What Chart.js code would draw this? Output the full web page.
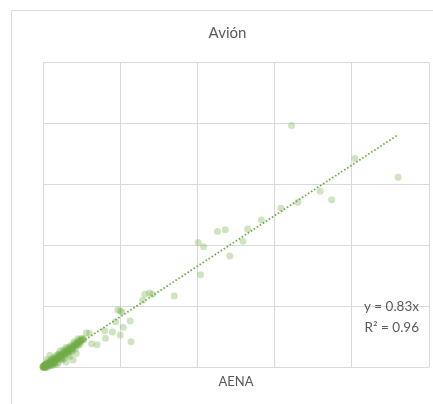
<!DOCTYPE html>
<html>
<head>
<meta charset="utf-8">
<script src="https://cdn.jsdelivr.net/npm/chart.js@4"></script>
<style>
  html, body { margin: 0; padding: 0; background: #fff; }
  canvas { display: block; }
</style>
</head>
<body>
<canvas id="scatter-chart" width="433" height="404"></canvas>
<script>
// AENA (x) vs Avión (y), axis units
let aena = [3.22, 4.04, 4.60, 3.59, 3.74, 3.30, 3.08, 2.83, 2.65, 2.59, 2.36, 2.26, 2.01, 2.08, 2.42, 2.04,
    1.70, 1.32, 1.38, 1.42, 1.29, 1.00, 1.02, 0.97, 0.94, 1.13, 1.04, 0.90, 1.00, 1.14, 0.80, 0.81, 0.63, 0.70, 0.60, 0.56,
    0.00, 0.01, 0.02, 0.02, 0.03, 0.03, 0.04, 0.04, 0.05, 0.05, 0.06, 0.06, 0.07, 0.07, 0.08, 0.08, 0.09, 0.09,
    0.10, 0.10, 0.11, 0.11, 0.12, 0.12, 0.13, 0.13, 0.14, 0.14, 0.15, 0.15, 0.16, 0.16, 0.17, 0.18, 0.18, 0.19,
    0.20, 0.20, 0.21, 0.22, 0.22, 0.23, 0.24, 0.24, 0.25, 0.26, 0.27, 0.28, 0.28, 0.29, 0.30, 0.30, 0.31, 0.32,
    0.33, 0.34, 0.35, 0.35, 0.36, 0.37, 0.38, 0.39, 0.39, 0.40, 0.41, 0.42, 0.43, 0.43, 0.44, 0.45, 0.46, 0.47,
    0.48, 0.49, 0.50, 0.51, 0.52, 0.09, 0.35, 0.25, 0.18, 0.05, 0.01, 0.00, 0.02, 0.03, 0.01, 0.04, 0.06, 0.08,
    0.20, 0.27, 0.33, 0.15, 0.12, 0.22, 0.30, 0.40, 0.45, 0.48, 0.38, 0.42, 0.36, 0.31, 0.26, 0.24, 0.19, 0.17,
    0.14, 0.11, 0.08, 0.06, 0.04, 0.03, 0.07, 0.10, 0.13, 0.16, 0.21, 0.23, 0.29, 0.34, 0.37, 0.41, 0.44, 0.47,
    0.50, 0.53, 0.46, 0.39, 0.32, 0.28, 0.02, 0.05, 0.09, 0.12, 0.15, 0.00, 0.01, 0.03];
let avion = [3.97, 3.43, 3.12, 2.89, 2.75, 2.71, 2.61, 2.42, 2.27, 2.07, 2.26, 2.23, 2.05, 1.98, 1.83, 1.52,
    1.17, 1.20, 1.22, 1.20, 1.10, 0.93, 0.91, 0.94, 0.75, 0.76, 0.66, 0.58, 0.53, 0.42, 0.60, 0.48, 0.39, 0.37, 0.56, 0.57,
    0.00, 0.01, 0.00, 0.02, 0.01, 0.03, 0.02, 0.04, 0.03, 0.05, 0.04, 0.06, 0.05, 0.07, 0.06, 0.04, 0.08, 0.06,
    0.07, 0.09, 0.08, 0.10, 0.09, 0.06, 0.11, 0.10, 0.12, 0.08, 0.13, 0.11, 0.14, 0.12, 0.14, 0.16, 0.13, 0.16,
    0.17, 0.15, 0.19, 0.18, 0.20, 0.19, 0.21, 0.17, 0.22, 0.21, 0.24, 0.23, 0.20, 0.26, 0.25, 0.09, 0.27, 0.26,
    0.29, 0.28, 0.30, 0.26, 0.31, 0.33, 0.32, 0.12, 0.35, 0.34, 0.36, 0.37, 0.23, 0.38, 0.40, 0.39, 0.41, 0.43,
    0.42, 0.45, 0.44, 0.46, 0.45, 0.20, 0.18, 0.12, 0.05, 0.13, 0.00, 0.01, 0.01, 0.02, 0.02, 0.03, 0.05, 0.07,
    0.08, 0.14, 0.20, 0.05, 0.15, 0.27, 0.33, 0.42, 0.47, 0.38, 0.27, 0.30, 0.36, 0.31, 0.28, 0.14, 0.21, 0.19,
    0.16, 0.13, 0.10, 0.08, 0.06, 0.05, 0.02, 0.04, 0.07, 0.09, 0.22, 0.14, 0.22, 0.33, 0.28, 0.40, 0.36, 0.45,
    0.48, 0.47, 0.37, 0.30, 0.24, 0.27, 0.04, 0.00, 0.03, 0.03, 0.07, 0.02, 0.03, 0.00];
let trendSlope = 0.83;
let r2 = 0.96;
let axisTicks = [0, 1, 2, 3, 4, 5];

let points = aena.map((x, i) => ({ x: x, y: avion[i] }));
let xMin = Math.min(...aena), xMax = Math.max(...aena);
let trend = [{ x: xMin, y: trendSlope * xMin }, { x: xMax, y: trendSlope * xMax }];

const green = '#70AD47';
const textGray = '#595959';
const gridGray = '#d9d9d9';

// white background, outer chart border and the trendline label
const decor = {
    id: 'decor',
    beforeDraw(chart) {
        const ctx = chart.ctx;
        ctx.save();
        ctx.fillStyle = '#fff';
        ctx.fillRect(0, 0, chart.width, chart.height);
        ctx.strokeStyle = gridGray;
        ctx.lineWidth = 1;
        ctx.beginPath();
        ctx.moveTo(11.5, chart.height + 2);
        ctx.lineTo(11.5, 10.5);
        ctx.lineTo(chart.width + 2, 10.5);
        ctx.stroke();
        ctx.restore();
    },
    afterDraw(chart) {
        const ctx = chart.ctx;
        const a = chart.chartArea;
        ctx.save();
        ctx.fillStyle = textGray;
        ctx.font = '13.5px Lato';
        ctx.textAlign = 'right';
        ctx.textBaseline = 'middle';
        ctx.fillText('y = ' + trendSlope + 'x', a.right - 10, 307);
        ctx.fillText('R² = ' + r2, a.right - 10, 328);
        ctx.restore();
    }
};

new Chart(document.getElementById('scatter-chart'), {
    type: 'scatter',
    data: {
        datasets: [{
            label: 'Avión',
            data: points,
            backgroundColor: 'rgba(112, 173, 71, 0.33)',
            borderWidth: 0,
            pointRadius: 3.5,
            clip: false
        }, {
            type: 'line',
            label: 'Tendencia',
            data: trend,
            borderColor: green,
            borderWidth: 1.8,
            borderDash: [1.6, 2],
            pointRadius: 0,
            fill: false
        }]
    },
    options: {
        responsive: false,
        animation: false,
        devicePixelRatio: 1,
        layout: { padding: { left: 23, right: 1, top: 10, bottom: 14 } },
        plugins: {
            legend: { display: false },
            tooltip: { enabled: false },
            title: {
                display: true,
                text: 'Avión',
                color: textGray,
                font: { family: 'Lato', size: 15, weight: 'normal' },
                padding: { top: 14, bottom: 20.7 }
            }
        },
        scales: {
            x: {
                type: 'linear',
                min: axisTicks[0],
                max: axisTicks[axisTicks.length - 1],
                ticks: { display: false, stepSize: 1 },
                grid: { color: gridGray, drawTicks: false },
                border: { display: false },
                title: {
                    display: true,
                    text: 'AENA',
                    color: textGray,
                    font: { family: 'Lato', size: 13 },
                    padding: { top: 7, bottom: 0 }
                }
            },
            y: {
                type: 'linear',
                min: axisTicks[0],
                max: axisTicks[axisTicks.length - 1],
                ticks: { display: false, stepSize: 1 },
                grid: { color: gridGray, drawTicks: false },
                border: { display: false },
                afterFit(scale) { scale.width = 20; }
            }
        }
    },
    plugins: [decor]
});
</script>
</body>
</html>
